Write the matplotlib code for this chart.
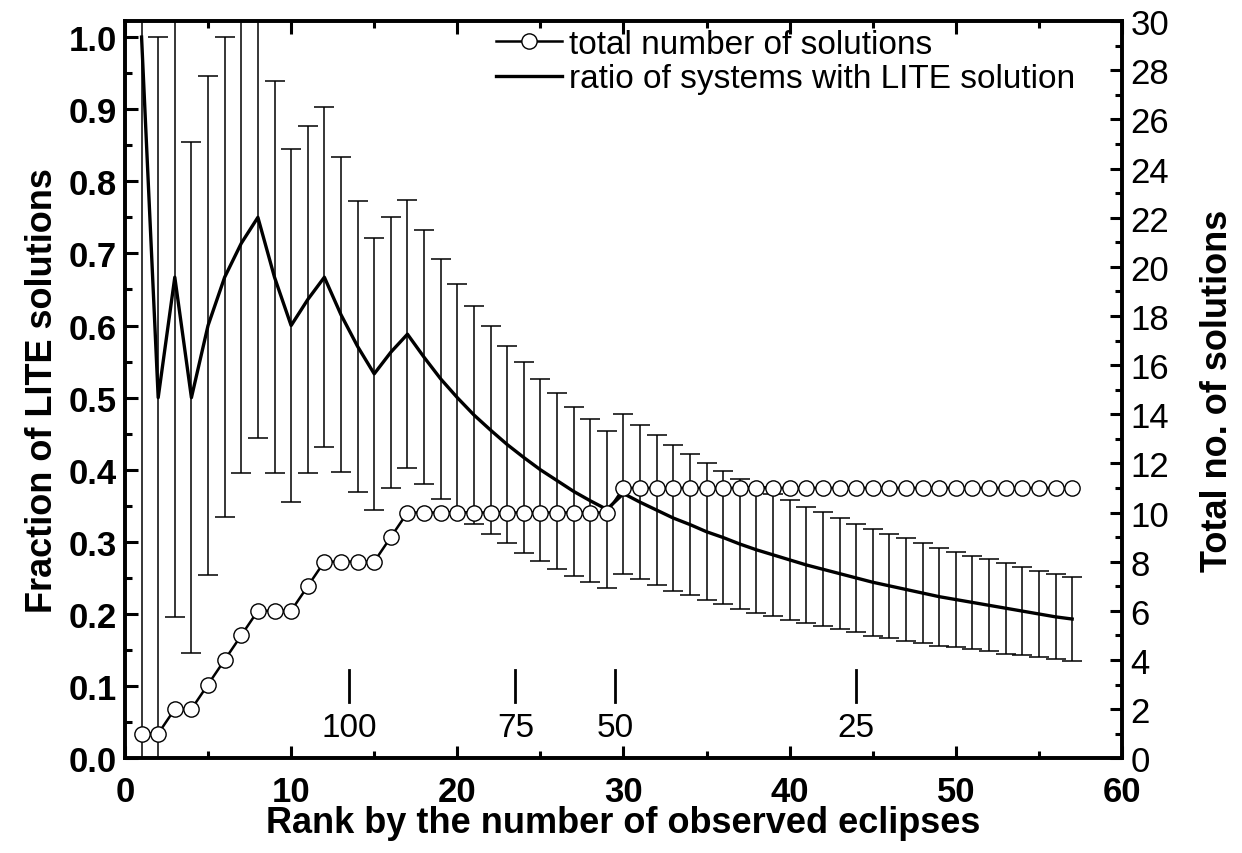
import numpy as np
import matplotlib
matplotlib.use('Agg')
import matplotlib.pyplot as plt
from matplotlib.lines import Line2D

plt.rcParams['font.family'] = ['Liberation Sans', 'DejaVu Sans']

# rank of the systems
rank = list(range(1, 58))

# total number of solutions (right axis)
solutions = [1, 1, 2, 2, 3, 4, 5, 6, 6, 6,
             7, 8, 8, 8, 8, 9, 10, 10, 10, 10,
             10, 10, 10, 10, 10, 10, 10, 10, 10, 11,
             11, 11, 11, 11, 11, 11, 11, 11, 11, 11,
             11, 11, 11, 11, 11, 11, 11, 11, 11, 11,
             11, 11, 11, 11, 11, 11, 11]

# ratio of systems with LITE solution (left axis)
ratio = [1.000, 0.500, 0.667, 0.500, 0.600, 0.667, 0.714, 0.750, 0.667, 0.600,
         0.636, 0.667, 0.615, 0.571, 0.533, 0.563, 0.588, 0.556, 0.526, 0.500,
         0.476, 0.455, 0.435, 0.417, 0.400, 0.385, 0.370, 0.357, 0.345, 0.367,
         0.355, 0.344, 0.333, 0.324, 0.314, 0.306, 0.297, 0.289, 0.282, 0.275,
         0.268, 0.262, 0.256, 0.250, 0.244, 0.239, 0.234, 0.229, 0.224, 0.220,
         0.216, 0.212, 0.208, 0.204, 0.200, 0.196, 0.193]

# error bars of the ratio
ratio_err = [1.000, 0.500, 0.471, 0.354, 0.346, 0.333, 0.319, 0.306, 0.272, 0.245,
             0.241, 0.236, 0.218, 0.202, 0.189, 0.188, 0.186, 0.176, 0.166, 0.158,
             0.151, 0.144, 0.137, 0.132, 0.126, 0.122, 0.117, 0.113, 0.109, 0.111,
             0.107, 0.104, 0.101, 0.098, 0.095, 0.092, 0.090, 0.087, 0.085, 0.083,
             0.081, 0.079, 0.077, 0.075, 0.074, 0.072, 0.071, 0.069, 0.068, 0.066,
             0.065, 0.064, 0.063, 0.061, 0.060, 0.059, 0.058]

# marks for number of observed eclipses
mark_x = [13.5, 23.5, 29.5, 44.0]
mark_labels = ['100', '75', '50', '25']

fig = plt.figure(figsize=(12.42, 8.54), dpi=100)
ax = fig.add_axes([0.1006, 0.111, 0.8028, 0.863])
ax2 = ax.twinx()

# ratio with error bars
ax.errorbar(rank, ratio, yerr=ratio_err, color='black', lw=2.4,
            elinewidth=1.1, capsize=7, capthick=1.1, zorder=2)

# total number of solutions
ax2.plot(rank, solutions, color='black', lw=1.8, marker='o', ms=11,
         mfc='white', mec='black', mew=1.0, zorder=3)

# eclipse number marks
for xm, lab in zip(mark_x, mark_labels):
    ax.plot([xm, xm], [0.078, 0.123], color='black', lw=2)
    ax.text(xm, 0.043, lab, ha='center', va='center', fontsize=24)

ax.set_xlim(0, 60)
ax.set_ylim(0, 1.022)
ax2.set_ylim(0, 30)

ax.set_xticks(np.arange(0, 61, 10))
ax.set_xticks(np.arange(0, 61, 5), minor=True)
ax.set_yticks(np.arange(0, 1.01, 0.1))
ax.set_yticks(np.arange(0, 1.01, 0.05), minor=True)
ax.set_yticklabels(['%.1f' % v for v in np.arange(0, 1.01, 0.1)])
ax2.set_yticks(np.arange(0, 31, 2))
ax2.set_yticks(np.arange(0, 31, 1), minor=True)

ax.tick_params(which='both', direction='in', top=True, right=False, width=2.2)
ax.tick_params(which='major', length=9, labelsize=25)
ax.tick_params(axis='y', which='major', pad=6)
ax.tick_params(axis='x', which='major', pad=12)
ax.tick_params(which='minor', length=5)
ax2.tick_params(which='both', direction='in', width=2.2)
ax2.tick_params(which='major', length=9, labelsize=25, pad=6)
ax2.tick_params(which='minor', length=5)
for lab in ax.get_xticklabels() + ax.get_yticklabels():
    lab.set_fontweight('bold')

for sp in ax2.spines.values():
    sp.set_linewidth(2.6)
for sp in ax.spines.values():
    sp.set_linewidth(2.6)

ax.set_xlabel('Rank by the number of observed eclipses', fontsize=26,
              fontweight='bold', labelpad=-2)
ax.set_ylabel('Fraction of LITE solutions', fontsize=26, fontweight='bold',
              labelpad=6)
ax2.set_ylabel('Total no. of solutions', fontsize=26, fontweight='bold',
               labelpad=22)

handles = [Line2D([], [], color='black', lw=1.8, marker='o', ms=11,
                  mfc='white', mec='black'),
           Line2D([], [], color='black', lw=2.4)]
ax2.legend(handles, ['total number of solutions',
                     'ratio of systems with LITE solution'],
           loc='upper right', bbox_to_anchor=(0.983, 1.03), frameon=False,
           fontsize=24, handlelength=2.0, handletextpad=0.2, labelspacing=0.1)

fig.savefig('out.png', dpi=100)
